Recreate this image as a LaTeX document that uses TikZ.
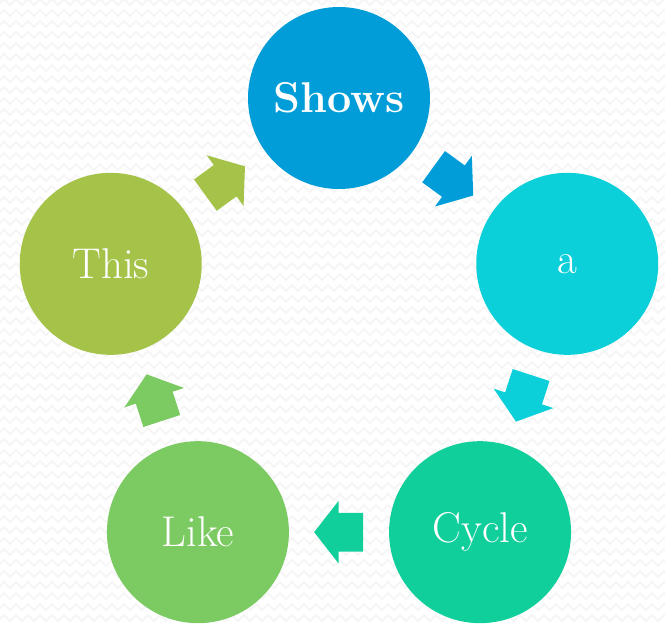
\documentclass[tikz,border=0pt]{standalone}
\usepackage{tikz}
\usetikzlibrary{positioning, shapes, calc, decorations.pathmorphing}

\definecolor{ringA}{HTML}{009DD9}
\definecolor{ringB}{HTML}{0BD0D9}
\definecolor{ringC}{HTML}{10CF9B}
\definecolor{ringD}{HTML}{7CCA62}
\definecolor{ringE}{HTML}{A5C249}

\tikzset{
  stage/.style={circle, minimum size=3.64cm, inner sep=0pt, text=white,
    font=\fontsize{24.5}{29}\selectfont},
  flow/.style={single arrow, draw=none, inner xsep=0pt, inner ysep=0.38cm,
    minimum height=0.98cm, anchor=tail,
    single arrow head extend=0.24cm, single arrow tip angle=104},
  zig/.style={black!4, line width=0.9pt, decorate,
    decoration={zigzag, segment length=0.24cm, amplitude=0.06cm}}
}

\begin{document}
\begin{tikzpicture}
        % background
        \useasboundingbox (-6.78,-5.7) rectangle (6.52,6.76);
        \clip (-6.78,-5.7) rectangle (6.52,6.76);
        \fill[white] (-6.78,-5.7) rectangle (6.52,6.76);
        \foreach \y in {-5.6,-5.38,...,6.8}
          \draw[zig] (-7,\y) -- (6.8,\y);

        % Circles
        \foreach \i/\name/\txt/\col in {0/shows/\textbf{Shows}/ringA, 1/a/a/ringB,
            2/cycle/Cycle/ringC, 3/like/Like/ringD, 4/this/This/ringE}
          \node[stage, fill=\col] (\name) at ({90-72*\i}:4.8) {\txt};

        % Arrows, centred between the circles
        \foreach \from/\to/\col/\ang in {shows/a/ringA/-36, a/cycle/ringB/-108,
            cycle/like/ringC/-180, like/this/ringD/-252, this/shows/ringE/-324}
          \node[flow, fill=\col, rotate=\ang] (\from-\to)
            at ($($(\from)!0.5!(\to)$)!0.49cm!(\from)$) {};
      \end{tikzpicture}
\end{document}
